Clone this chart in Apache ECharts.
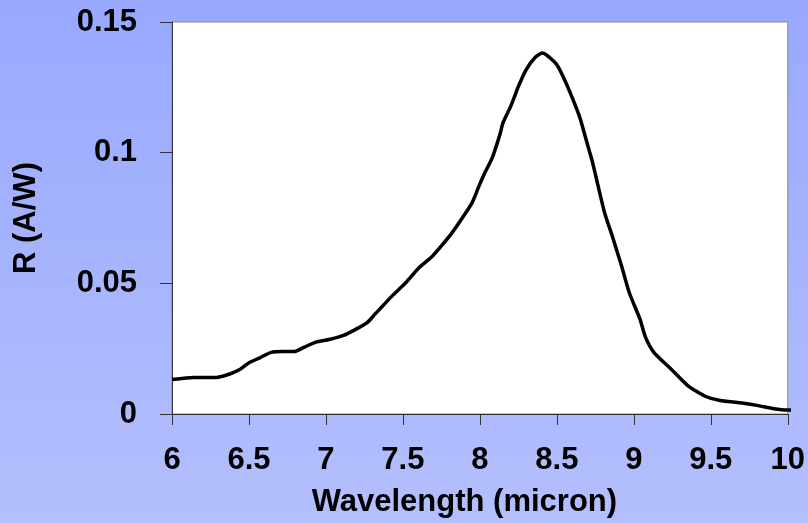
<!DOCTYPE html>
<html>
<head>
<meta charset="utf-8">
<script src="https://cdn.jsdelivr.net/npm/echarts@6/dist/echarts.min.js"></script>
<style>
html,body{margin:0;padding:0;}
#c{width:808px;height:523px;background:linear-gradient(to bottom,#98a9fe,#b4bffd);}
</style>
</head>
<body>
<div id="c"></div>
<script>
const wavelength = [6.00,6.14,6.29,6.375,6.44,6.50,6.57,6.64,6.72,6.795,6.86,6.935,7.02,7.11,7.19,7.27,7.32,7.37,7.43,7.52,7.60,7.69,7.75,7.82,7.88,7.95,7.99,8.03,8.08,8.13,8.15,8.20,8.25,8.30,8.36,8.405,8.44,8.50,8.55,8.605,8.65,8.69,8.73,8.755,8.81,8.86,8.92,8.97,9.04,9.075,9.13,9.24,9.35,9.46,9.56,9.69,9.80,9.91,10.0,10.08];
const responsivity = [0.0132,0.0140,0.0140,0.0153,0.0170,0.0196,0.0215,0.0235,0.0239,0.0239,0.0256,0.0275,0.0285,0.0300,0.0323,0.0351,0.0383,0.0414,0.0452,0.0503,0.0557,0.0603,0.0643,0.0694,0.0745,0.0809,0.0866,0.0920,0.0980,0.1069,0.1114,0.1177,0.1253,0.1317,0.1365,0.1381,0.1370,0.1336,0.1279,0.1203,0.1133,0.1050,0.0967,0.0905,0.0770,0.0681,0.0567,0.0465,0.0363,0.0295,0.0236,0.0173,0.0109,0.0069,0.0052,0.0043,0.0033,0.0020,0.0015,0.0015];
const xName = 'Wavelength (micron)';
const yName = 'R (A/W)';

const chart = echarts.init(document.getElementById('c'), null, {renderer:'canvas'});
const font = {fontFamily:'Liberation Sans, Arial, sans-serif', fontWeight:'bold', color:'#000'};
chart.setOption({
  backgroundColor: 'transparent',
  animation: false,
  grid: {left:172, top:22, right:17, bottom:108, show:true, backgroundColor:'#fff', borderColor:'#8a8a8a', borderWidth:1, containLabel:false},
  xAxis: {
    type:'value', min:6, max:10, interval:0.5,
    name: xName, nameLocation:'middle', nameGap:73,
    nameTextStyle: Object.assign({fontSize:31, padding:[0,31,0,0]}, font),
    axisLine:{show:true, onZero:false, lineStyle:{color:'#333', width:1}},
    axisTick:{show:true, inside:false, length:11, lineStyle:{color:'#333', width:1}},
    axisLabel: Object.assign({fontSize:31, margin:31}, font),
    splitLine:{show:false}
  },
  yAxis: {
    type:'value', min:0, max:0.15, interval:0.05,
    name: yName, nameLocation:'middle', nameGap:130,
    nameTextStyle: Object.assign({fontSize:31}, font),
    axisLine:{show:true, lineStyle:{color:'#333', width:1}},
    axisTick:{show:true, inside:false, length:12, lineStyle:{color:'#333', width:1}},
    axisLabel: Object.assign({fontSize:31, margin:35}, font),
    splitLine:{show:false}
  },
  series: [{
    type:'line', data: wavelength.map((w,i)=>[w, responsivity[i]]),
    showSymbol:false, smooth:0.2, clip:false,
    lineStyle:{color:'#000', width:3.5}
  }]
});
</script>
</body>
</html>
